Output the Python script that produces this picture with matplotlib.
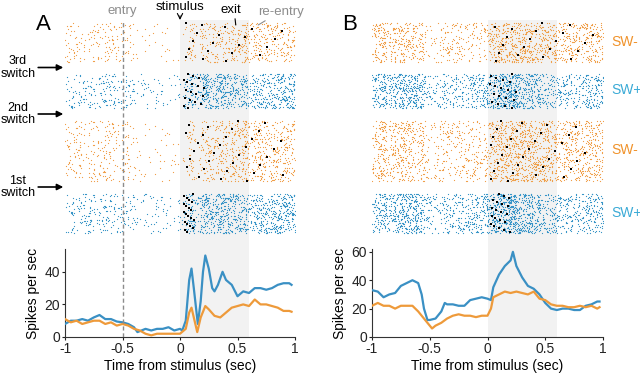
import matplotlib
matplotlib.use('Agg')
import matplotlib.pyplot as plt
import numpy as np

plt.rcParams['font.family'] = ['Liberation Sans', 'DejaVu Sans']
plt.rcParams['axes.unicode_minus'] = False
plt.rcParams['font.size'] = 9

ORANGE = '#EE9A3A'
BLUE = '#3A90C4'
ORANGE_DOT = '#F0A04A'
BLUE_DOT = '#3895C8'
GREY = '#8C8C8C'
SHADE = '#F2F2F2'

# ---- PSTH values (spikes/sec) ----
a_blue_t = [-1.0, -0.95, -0.9, -0.85, -0.8, -0.75, -0.7, -0.65, -0.6, -0.55, -0.5, -0.45,
            -0.4, -0.37, -0.3, -0.25, -0.2, -0.15, -0.1, -0.05, 0.0, 0.02, 0.05, 0.08, 0.1,
            0.12, 0.155, 0.18, 0.2, 0.22, 0.25, 0.28, 0.3, 0.33, 0.37, 0.4, 0.45, 0.5, 0.55,
            0.6, 0.65, 0.7, 0.75, 0.8, 0.85, 0.9, 0.95, 0.97]
a_blue_y = [8, 10, 10, 11, 10, 12, 13.5, 11, 11, 9.5, 9, 8,
            6, 3, 5, 4, 5, 5, 6, 4, 5, 4, 10, 35, 42,
            30, 8, 22, 40, 50, 42, 30, 28, 32, 40, 35, 32, 25, 28,
            27, 30, 30, 29, 30, 32, 33, 33, 32]
a_orange_t = [-1.0, -0.95, -0.9, -0.85, -0.8, -0.75, -0.7, -0.65, -0.6, -0.55, -0.5, -0.45,
              -0.4, -0.35, -0.3, -0.25, -0.2, -0.15, -0.1, -0.05, 0.0, 0.05, 0.08, 0.1, 0.12,
              0.15, 0.18, 0.22, 0.25, 0.3, 0.35, 0.4, 0.45, 0.5, 0.55, 0.6, 0.65, 0.7, 0.75,
              0.8, 0.85, 0.9, 0.95, 0.97]
a_orange_y = [11, 9, 10, 8, 9, 10, 10, 8, 9, 7, 8, 7,
              5, 4, 2, 1, 2, 2, 2, 2, 2, 5, 15, 18, 12,
              3, 12, 19, 17, 13, 12, 15, 18, 19, 20, 19, 23, 20, 20,
              19, 18, 16, 16, 15.5]

b_blue_t = [-1.0, -0.95, -0.9, -0.85, -0.8, -0.75, -0.7, -0.65, -0.6, -0.57, -0.55, -0.52,
            -0.5, -0.45, -0.4, -0.37, -0.35, -0.3, -0.25, -0.2, -0.15, -0.1, -0.05, 0.0,
            0.03, 0.05, 0.1, 0.15, 0.2, 0.22, 0.25, 0.3, 0.35, 0.4, 0.45, 0.5, 0.55, 0.6,
            0.65, 0.7, 0.75, 0.8, 0.85, 0.9, 0.95, 0.97]
b_blue_y = [33, 32, 28, 30, 31, 36, 38, 40, 38, 30, 20, 12,
            12, 13, 18, 24, 23, 23, 22, 22, 26, 27, 28, 27,
            26, 35, 44, 50, 54, 60, 50, 42, 36, 34, 30, 24, 20, 19,
            20, 20, 19, 19, 22, 23, 25, 25]
b_orange_t = [-1.0, -0.95, -0.9, -0.85, -0.8, -0.75, -0.7, -0.65, -0.6, -0.55, -0.5, -0.48,
              -0.45, -0.4, -0.35, -0.3, -0.25, -0.2, -0.15, -0.1, -0.05, 0.0, 0.03, 0.05,
              0.1, 0.15, 0.2, 0.25, 0.3, 0.35, 0.4, 0.45, 0.5, 0.55, 0.6, 0.65, 0.7, 0.75,
              0.8, 0.85, 0.9, 0.95, 0.97]
b_orange_y = [22, 24, 22, 22, 20, 22, 22, 22, 18, 13, 8, 6,
              8, 10, 13, 15, 16, 15, 15, 14, 15, 15, 20, 28,
              30, 32, 31, 32, 31, 30, 32, 27, 26, 23, 22, 22, 21, 21,
              22, 21, 22, 20, 21]

# ---- raster blocks (top to bottom): condition and number of trials ----
block_cond = ['SW-', 'SW+', 'SW-', 'SW+']
block_trials = [40, 35, 61, 40]
block_gap = [2, 11, 12, 12]
switch_labels = ['3rd\nswitch', '2nd\nswitch', '1st\nswitch']
# window in which the black exit markers fall, per block
a_exit = [(0.05, 0.95), (0.03, 0.22), (0.04, 0.9), (0.03, 0.12)]
b_exit = [(0.06, 0.95), (0.02, 0.25), (0.03, 0.9), (0.03, 0.2)]

tick_x = [-1, -0.5, 0, 0.5, 1]
tick_x_lab = ['-1', '-0.5', '0', '0.5', '1']


def block_rows():
    rows = []
    pos = 0
    for g, n in zip(block_gap, block_trials):
        pos += g
        rows.append(pos)
        pos += n
    return rows


def raster(ax, t, y, row0, ntr, color, k0):
    # spike times spread deterministically along the cumulative rate curve
    tt = np.linspace(-1, 1, 801)
    r = np.interp(tt, t, y)
    cdf = np.concatenate([[0], np.cumsum((r[1:] + r[:-1]) / 2 * np.diff(tt))])
    total = cdf[-1]
    cdf = cdf / total
    xs, ys = [], []
    for i in range(ntr):
        g = 0.55 + 0.4 * ((i * 0.6180339887 + k0 * 0.4142135) % 1)
        n = int(round(total * g))
        k = np.arange(1, n + 1)
        j = i + 7 * k0 + 1
        u = (k * 0.7548776662 + k * k * 0.1013288 + j * 0.3819660113
             + j * j * 0.0871133 + j * k * 0.1732051) % 1
        xs.append(np.interp(u, cdf, tt))
        ys.append(np.full(n, row0 + i + 0.5))
    ax.plot(np.concatenate(xs), np.concatenate(ys), 's', ms=0.8, mew=0,
            color=color, zorder=3)


def exit_marks(ax, row0, ntr, lo, hi, k0):
    i = np.arange(0, ntr, 2)
    tx = lo + (hi - lo) * ((i * 0.6180339887 + k0 * 0.31) % 1) ** 1.3
    ax.plot(tx, row0 + i + 0.5, 's', ms=1.8, mew=0, color='black', zorder=4)


fig = plt.figure(figsize=(6.4, 3.73), dpi=100)

ras_bottom, ras_h = 1 - 249 / 373, 229 / 373
ps_bottom, ps_h = 1 - 337 / 373, 88 / 373
panels = [
    (65 / 640, 230 / 640, a_blue_t, a_blue_y, a_orange_t, a_orange_y, a_exit, [0, 20, 40], 54, 'A'),
    (372 / 640, 231 / 640, b_blue_t, b_blue_y, b_orange_t, b_orange_y, b_exit, [0, 20, 40, 60], 62, 'B'),
]
rows = block_rows()
total_rows = 229

for p, (left, width, bt, by, ot, oy, exits, yt, ytop, letter) in enumerate(panels):
    axr = fig.add_axes([left, ras_bottom, width, ras_h])
    axp = fig.add_axes([left, ps_bottom, width, ps_h])

    # raster
    axr.axvspan(0, 0.6, color=SHADE, lw=0, zorder=0)
    for b, (cond, row0, ntr) in enumerate(zip(block_cond, rows, block_trials)):
        if cond == 'SW-':
            raster(axr, ot, oy, row0, ntr, ORANGE_DOT, b + 4 * p)
        else:
            raster(axr, bt, by, row0, ntr, BLUE_DOT, b + 4 * p)
        exit_marks(axr, row0, ntr, exits[b][0], exits[b][1], b + 5 * p)
    axr.set_xlim(-1, 1)
    axr.set_ylim(total_rows, 0)
    axr.axis('off')

    # PSTH
    axp.axvspan(0, 0.6, color=SHADE, lw=0, zorder=0)
    axp.plot(bt, by, color=BLUE, lw=1.6, zorder=3)
    axp.plot(ot, oy, color=ORANGE, lw=1.6, zorder=3)
    axp.set_xlim(-1, 1)
    axp.set_ylim(0, ytop)
    axp.set_xticks(tick_x)
    axp.set_xticklabels(tick_x_lab)
    axp.set_yticks(yt)
    for s in ['top', 'right']:
        axp.spines[s].set_visible(False)
    for s in ['left', 'bottom']:
        axp.spines[s].set_color('#333333')
        axp.spines[s].set_linewidth(0.8)
    axp.tick_params(length=2.5, width=0.8, labelsize=10, pad=1, colors='#222222')
    axp.set_xlabel('Time from stimulus (sec)', fontsize=10, labelpad=2)
    axp.set_ylabel('Spikes per sec', fontsize=10, labelpad=3)
    axp.patch.set_alpha(0)

    fig.text(left - 22 / 640, 1 - 25 / 373, letter, fontsize=16, ha='center', va='center')

    if p == 0:
        axr.axvline(-0.5, ymin=0, ymax=0.99, color=GREY, ls=(0, (3, 2)), lw=1, zorder=5)
        axp.axvline(-0.5, color=GREY, ls=(0, (3, 2)), lw=1, zorder=5)
        axr.text(-0.5, -3, 'entry', color=GREY, ha='center', va='bottom', fontsize=9.5)
        axr.annotate('stimulus', xy=(0, 0), xytext=(0, 5), textcoords='offset points',
                     ha='center', va='bottom', fontsize=9.5,
                     arrowprops=dict(arrowstyle='->', lw=0.8, color='black',
                                     shrinkA=0, shrinkB=0))
        axr.annotate('exit', xy=(0.485, 5), xytext=(0.44, -4), ha='center', va='bottom',
                     fontsize=9.5,
                     arrowprops=dict(arrowstyle='-', lw=0.8, color='black',
                                     shrinkA=0, shrinkB=0, relpos=(0.7, 0)))
        axr.annotate('re-entry', xy=(0.68, 5), xytext=(0.88, -2), ha='center', va='bottom',
                     fontsize=9.5, color=GREY,
                     arrowprops=dict(arrowstyle='-', lw=0.8, color=GREY,
                                     shrinkA=0, shrinkB=0, relpos=(0.25, 0)))
        for k, lab in enumerate(switch_labels):
            gap_mid = (rows[k] + block_trials[k] + rows[k + 1]) / 2
            axr.annotate(lab, xy=(-1.015, gap_mid), xytext=(-1.41, gap_mid),
                         ha='center', va='center', fontsize=9, linespacing=1.05,
                         annotation_clip=False,
                         arrowprops=dict(arrowstyle='-|>', lw=1.2, color='black',
                                         mutation_scale=9, shrinkA=0, shrinkB=0,
                                         relpos=(1, 0.5)))
    else:
        for cond, row0, ntr in zip(block_cond, rows, block_trials):
            col = '#F0922A' if cond == 'SW-' else '#3AAAD6'
            axr.text(1.07, row0 + ntr / 2, cond, color=col, fontsize=10,
                     ha='left', va='center', clip_on=False)

fig.savefig('out.png', dpi=100)
